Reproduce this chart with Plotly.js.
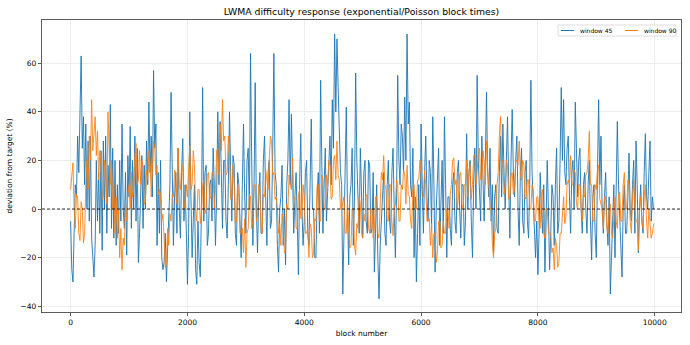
<!DOCTYPE html>
<html>
<head>
<meta charset="utf-8">
<script src="https://cdn.plot.ly/plotly-3.0.1.min.js"></script>
<style>
html,body{margin:0;padding:0;background:#fff;}
#chart{width:690px;height:345px;}
</style>
</head>
<body>
<div id="chart"></div>
<script>
// block spacing of the sampled readings
const blockStep = 20;

// deviation from target (%), window 45 (every 20 blocks)
const window45 = [
  -5, -25, -30, -10, 10, 5, 30, 15, 42, 63, 25, 38, 10, 35, 0, 28, -5, 30, -12, -20,
  -28, -15, 20, -5, 15, -10, 24, -17, 28, 0, 30, -10, 18, 5, 43, -8, 25, -12, 20, -15,
  10, -10, 20, -5, 35, 0, -8, 15, -19, 22, 5, 34, -8, 20, 0, 30, -5, 25, -22, -10,
  5, 22, -8, 18, 0, 28, 10, 44, 15, 30, 5, 57, 25, 35, -15, 15, -10, 20, -20, -25,
  -22, -10, -30, -15, -5, 10, 48, 15, -15, 5, 15, -10, 25, 0, -12, 15, 29, -5, 10, -8,
  -31, -10, 40, 5, -20, -5, 10, -25, -31, -5, -22, -28, 0, 50, -5, 15, 18, -15, -10, 10,
  12, -5, 25, 10, -15, 5, 40, 10, 36, 15, -8, 20, 20, -5, -12, 10, 40, 15, -5, 22,
  18, -10, -15, 15, 10, -5, -20, 10, 35, 5, -10, 20, 25, 0, 64, 20, -15, 10, 52, 0,
  -18, 5, 15, -10, -10, 20, 30, 5, -15, 15, 20, -8, -5, 25, 64, 15, 10, -15, -26, 0,
  5, 18, -15, 0, -23, 10, 20, 45, 10, 39, 15, -10, 5, 15, -5, -27, 10, 31, 0, -15,
  -5, 15, 20, -10, -15, 10, 37, 0, 0, -20, -20, 5, 15, -10, 53, 20, -10, 10, 25, -5,
  5, 20, 30, 10, 45, 25, 72, 40, 70, 50, 35, 15, 10, -35, -10, 20, 42, 0, -23, 5,
  10, 25, -15, 5, 56, 20, 5, -10, 25, 5, -12, 15, 20, -5, -10, 20, 18, -10, -8, 15,
  -26, -10, 10, -20, -37, -15, -5, 5, 15, -10, -15, 10, 20, -5, -10, 15, 25, 0, -20, 5,
  55, 20, 10, 35, 30, 15, 46, 20, 72, 35, 44, 10, 5, 25, -20, 5, -30, -10, 10, -15,
  35, 10, -10, 15, 30, 5, -5, 20, 15, -8, 38, 10, -26, 0, 10, 25, -15, 5, 20, -10,
  38, 10, -20, 5, 5, -8, -15, 10, 15, -5, -10, 15, 20, 0, -12, 10, 10, -15, -5, 31,
  0, 15, 20, -5, -20, 10, 25, 0, 55, 20, 10, -5, 30, 10, -5, 20, 48, 15, 5, 25,
  -5, 10, -19, 5, 10, -8, -10, 15, 30, 5, 35, 15, 0, 20, 38, 10, -12, 20, 41, 15,
  5, 20, 30, 0, -15, 15, 25, -5, -10, 15, 20, -5, -12, 10, 53, 15, 5, -10, -20, -5,
  -27, -10, 15, 0, -10, 10, -26, -5, 20, 0, -25, -10, 10, 5, -15, 10, 25, -10, -5, 20,
  50, 20, 45, 15, 10, 25, 30, 5, -10, 15, 20, 0, 44, 25, 5, 20, 25, 0, -10, 10,
  15, 0, -10, 10, 20, -5, -21, 5, 10, -10, -20, 15, 45, 10, 30, 0, -10, 5, 15, -5,
  -15, 5, -35, -20, 0, 10, -20, 5, 36, 10, -5, -15, -28, 0, 10, -10, -10, 5, 23, 0,
  -5, 10, 20, -10, 28, 10, -18, 0, 10, -5, -10, 15, 31, 5, 0, 15, 28, -5, 5, 0
];

// deviation from target (%), window 90
const window90 = [
  8, 14, 19, 0, -8, 6, 5, -10, -13, 3, 0, -14, -10, 10, 20, 8, 30, 20, 45, 24,
  30, 38, 22, 32, 12, 24, 18, 4, 5, 20, 15, 2, 40, 28, 10, 20, 0, 10, -10, 5,
  -12, 0, -20, -8, -25, -12, -15, 2, -5, 6, 10, 0, 15, 5, 8, 22, 27, 10, 12, 24,
  10, 20, 17, 2, 3, 16, 12, 24, 20, 5, 14, 28, 25, 14, 18, 6, 8, 5, -5, -2,
  -12, -24, -23, -8, -15, -2, -5, 6, 5, 16, 15, 2, 25, 10, 8, 18, 18, 4, 0, 10,
  5, 20, 26, 8, 10, 24, 18, 0, -5, 8, 8, -6, -2, 10, 12, -2, 0, 14, 15, 4,
  5, 15, 15, 0, 8, 24, 25, 14, 35, 24, 45, 28, 30, 14, 15, 30, 22, 4, 5, 18,
  10, -6, -5, 10, 5, -10, -10, -8, -18, -4, -24, -10, -8, 6, 5, -8, -5, 10, 10, -5,
  -3, 10, 8, -8, -10, 6, 5, 16, 12, 8, 20, 30, 28, 14, 15, 4, 5, 0, -10, -6,
  -15, -2, -5, -18, -17, 2, 0, 14, 10, 8, 21, 4, 5, -8, -8, 6, 8, -4, -3, 10,
  5, -10, -10, -8, -20, -6, -8, -20, -18, -4, -5, 10, 10, -5, -5, 14, 12, 0, 0, 14,
  10, 20, 18, 4, 5, 20, 22, 12, 28, 14, 12, 0, 0, 2, 5, -10, -10, 3, -5, -16,
  -15, 0, 0, -15, -19, -6, -8, 5, 2, -10, -12, -2, -5, 6, 5, -8, -10, 0, 0, -12,
  -8, 5, 5, -10, -12, 6, 15, 12, 22, 10, 8, -5, -5, 10, 10, -5, -11, 0, 2, 12,
  10, -5, -5, 10, 8, 16, 14, 2, 18, 6, 5, -5, -8, 8, 10, 0, 0, 12, 12, 20,
  15, 5, 5, 16, 10, -5, -5, -4, -15, -6, -20, -10, -10, -22, -18, -5, -5, -16, -15, -5,
  -10, -10, 0, 0, -8, 6, 10, 20, 21, 10, 12, 0, 5, 14, 15, 2, 0, 10, 10, 20,
  5, 16, 18, 4, 10, 22, 22, 10, 15, 24, 25, 12, 12, 24, 20, 10, 28, 16, 10, 0,
  0, -14, -20, -10, -8, 10, 15, 30, 38, 20, 20, 6, 10, 20, 18, 4, 5, 14, 15, 6,
  8, 20, 20, 18, 28, 14, 12, 20, 18, 4, 5, 12, 12, 0, 0, 10, 8, -5, -5, 5,
  5, -6, -8, 6, 8, -10, -12, 0, 0, -10, -10, -10, -18, -16, -25, -12, -15, -24, -22, -10,
  -10, 0, 5, -6, -3, 10, 12, 10, 22, 10, 10, 16, 15, 2, 0, 10, 10, 0, -5, 6,
  5, 14, 15, 20, 32, 10, 10, -5, -5, 10, 8, 16, 18, 4, 2, 0, -8, 5, 5, -8,
  -10, 0, 2, -10, -12, 0, 5, -5, -8, 6, 7, -5, -5, 10, 15, 0, 0, 12, 10, -5,
  -10, 5, 12, 0, -5, -5, -17, 0, 5, -5, -8, 5, 10, -5, -12, 0, -5, -12, -10, -6
];

const seriesNames = ["window 45", "window 90"];
const seriesColors = ["#1f77b4", "#ff7f0e"];
const xTicks = [0, 2000, 4000, 6000, 8000, 10000];
const yTicks = [-40, -20, 0, 20, 40, 60];

const blocks = window45.map((_, i) => i * blockStep);

const font = "DejaVu Sans, Liberation Sans, sans-serif";

const traces = [
  {x: blocks, y: window45, type: "scatter", mode: "lines", name: seriesNames[0],
   line: {color: seriesColors[0], width: 1}, opacity: 0.92, hoverinfo: "skip"},
  {x: blocks, y: window90, type: "scatter", mode: "lines", name: seriesNames[1],
   line: {color: seriesColors[1], width: 1}, opacity: 0.88, hoverinfo: "skip"}
];

const axisCommon = {
  showline: true, mirror: true, linecolor: "#333", linewidth: 0.8,
  ticks: "outside", ticklen: 3.5, tickwidth: 0.8, tickcolor: "#333",
  showgrid: true, gridcolor: "#e8e8e8", gridwidth: 0.8,
  zeroline: false, tickfont: {family: font, size: 7.5, color: "#000"}
};

// legend box drawn in the upper right corner (paper coordinates)
const legendBox = {x0: 0.8075, x1: 0.9922, y0: 0.9452, y1: 0.9829, yMid: 0.9640};
const legendItems = [
  {lx0: 0.8122, lx1: 0.8326, tx: 0.8388},
  {lx0: 0.9124, lx1: 0.9327, tx: 0.9390}
];

const shapes = [
  {type: "line", xref: "paper", x0: 0, x1: 1, yref: "y", y0: 0, y1: 0,
   line: {color: "#000", width: 0.8, dash: "3px,2px"}, layer: "above"},
  {type: "rect", xref: "paper", yref: "paper", x0: legendBox.x0, x1: legendBox.x1,
   y0: legendBox.y0, y1: legendBox.y1, line: {color: "#d5d5d5", width: 0.8},
   fillcolor: "rgba(255,255,255,0.85)", layer: "above"}
];
const annotations = [];
legendItems.forEach((it, i) => {
  shapes.push({type: "line", xref: "paper", yref: "paper", x0: it.lx0, x1: it.lx1,
               y0: legendBox.yMid, y1: legendBox.yMid,
               line: {color: seriesColors[i], width: 1}, layer: "above"});
  annotations.push({xref: "paper", yref: "paper", x: it.tx, y: legendBox.yMid,
                    xanchor: "left", yanchor: "middle", showarrow: false,
                    text: seriesNames[i], font: {family: font, size: 6, color: "#000"}});
});

const layout = {
  width: 690, height: 345,
  paper_bgcolor: "#fff", plot_bgcolor: "#fff",
  margin: {l: 42, r: 9, t: 20, b: 33},
  title: {text: "LWMA difficulty response (exponential/Poisson block times)",
          x: 0.5, xref: "paper", xanchor: "center",
          y: 1 - 12 / 345, yref: "container", yanchor: "middle",
          font: {family: font, size: 9.3, color: "#000"}},
  xaxis: Object.assign({}, axisCommon, {
    range: [-490, 10450], tickvals: xTicks, ticktext: xTicks.map(String),
    title: {text: "block number", standoff: 4, font: {family: font, size: 7.5, color: "#000"}}
  }),
  yaxis: Object.assign({}, axisCommon, {
    range: [-42.4, 77.8], tickvals: yTicks, ticktext: yTicks.map(v => v < 0 ? "\u2212" + Math.abs(v) : String(v)),
    title: {text: "deviation from target (%)", standoff: 6, font: {family: font, size: 7.5, color: "#000"}}
  }),
  shapes: shapes,
  annotations: annotations,
  showlegend: false
};

Plotly.newPlot("chart", traces, layout, {displayModeBar: false, staticPlot: true});
</script>
</body>
</html>
